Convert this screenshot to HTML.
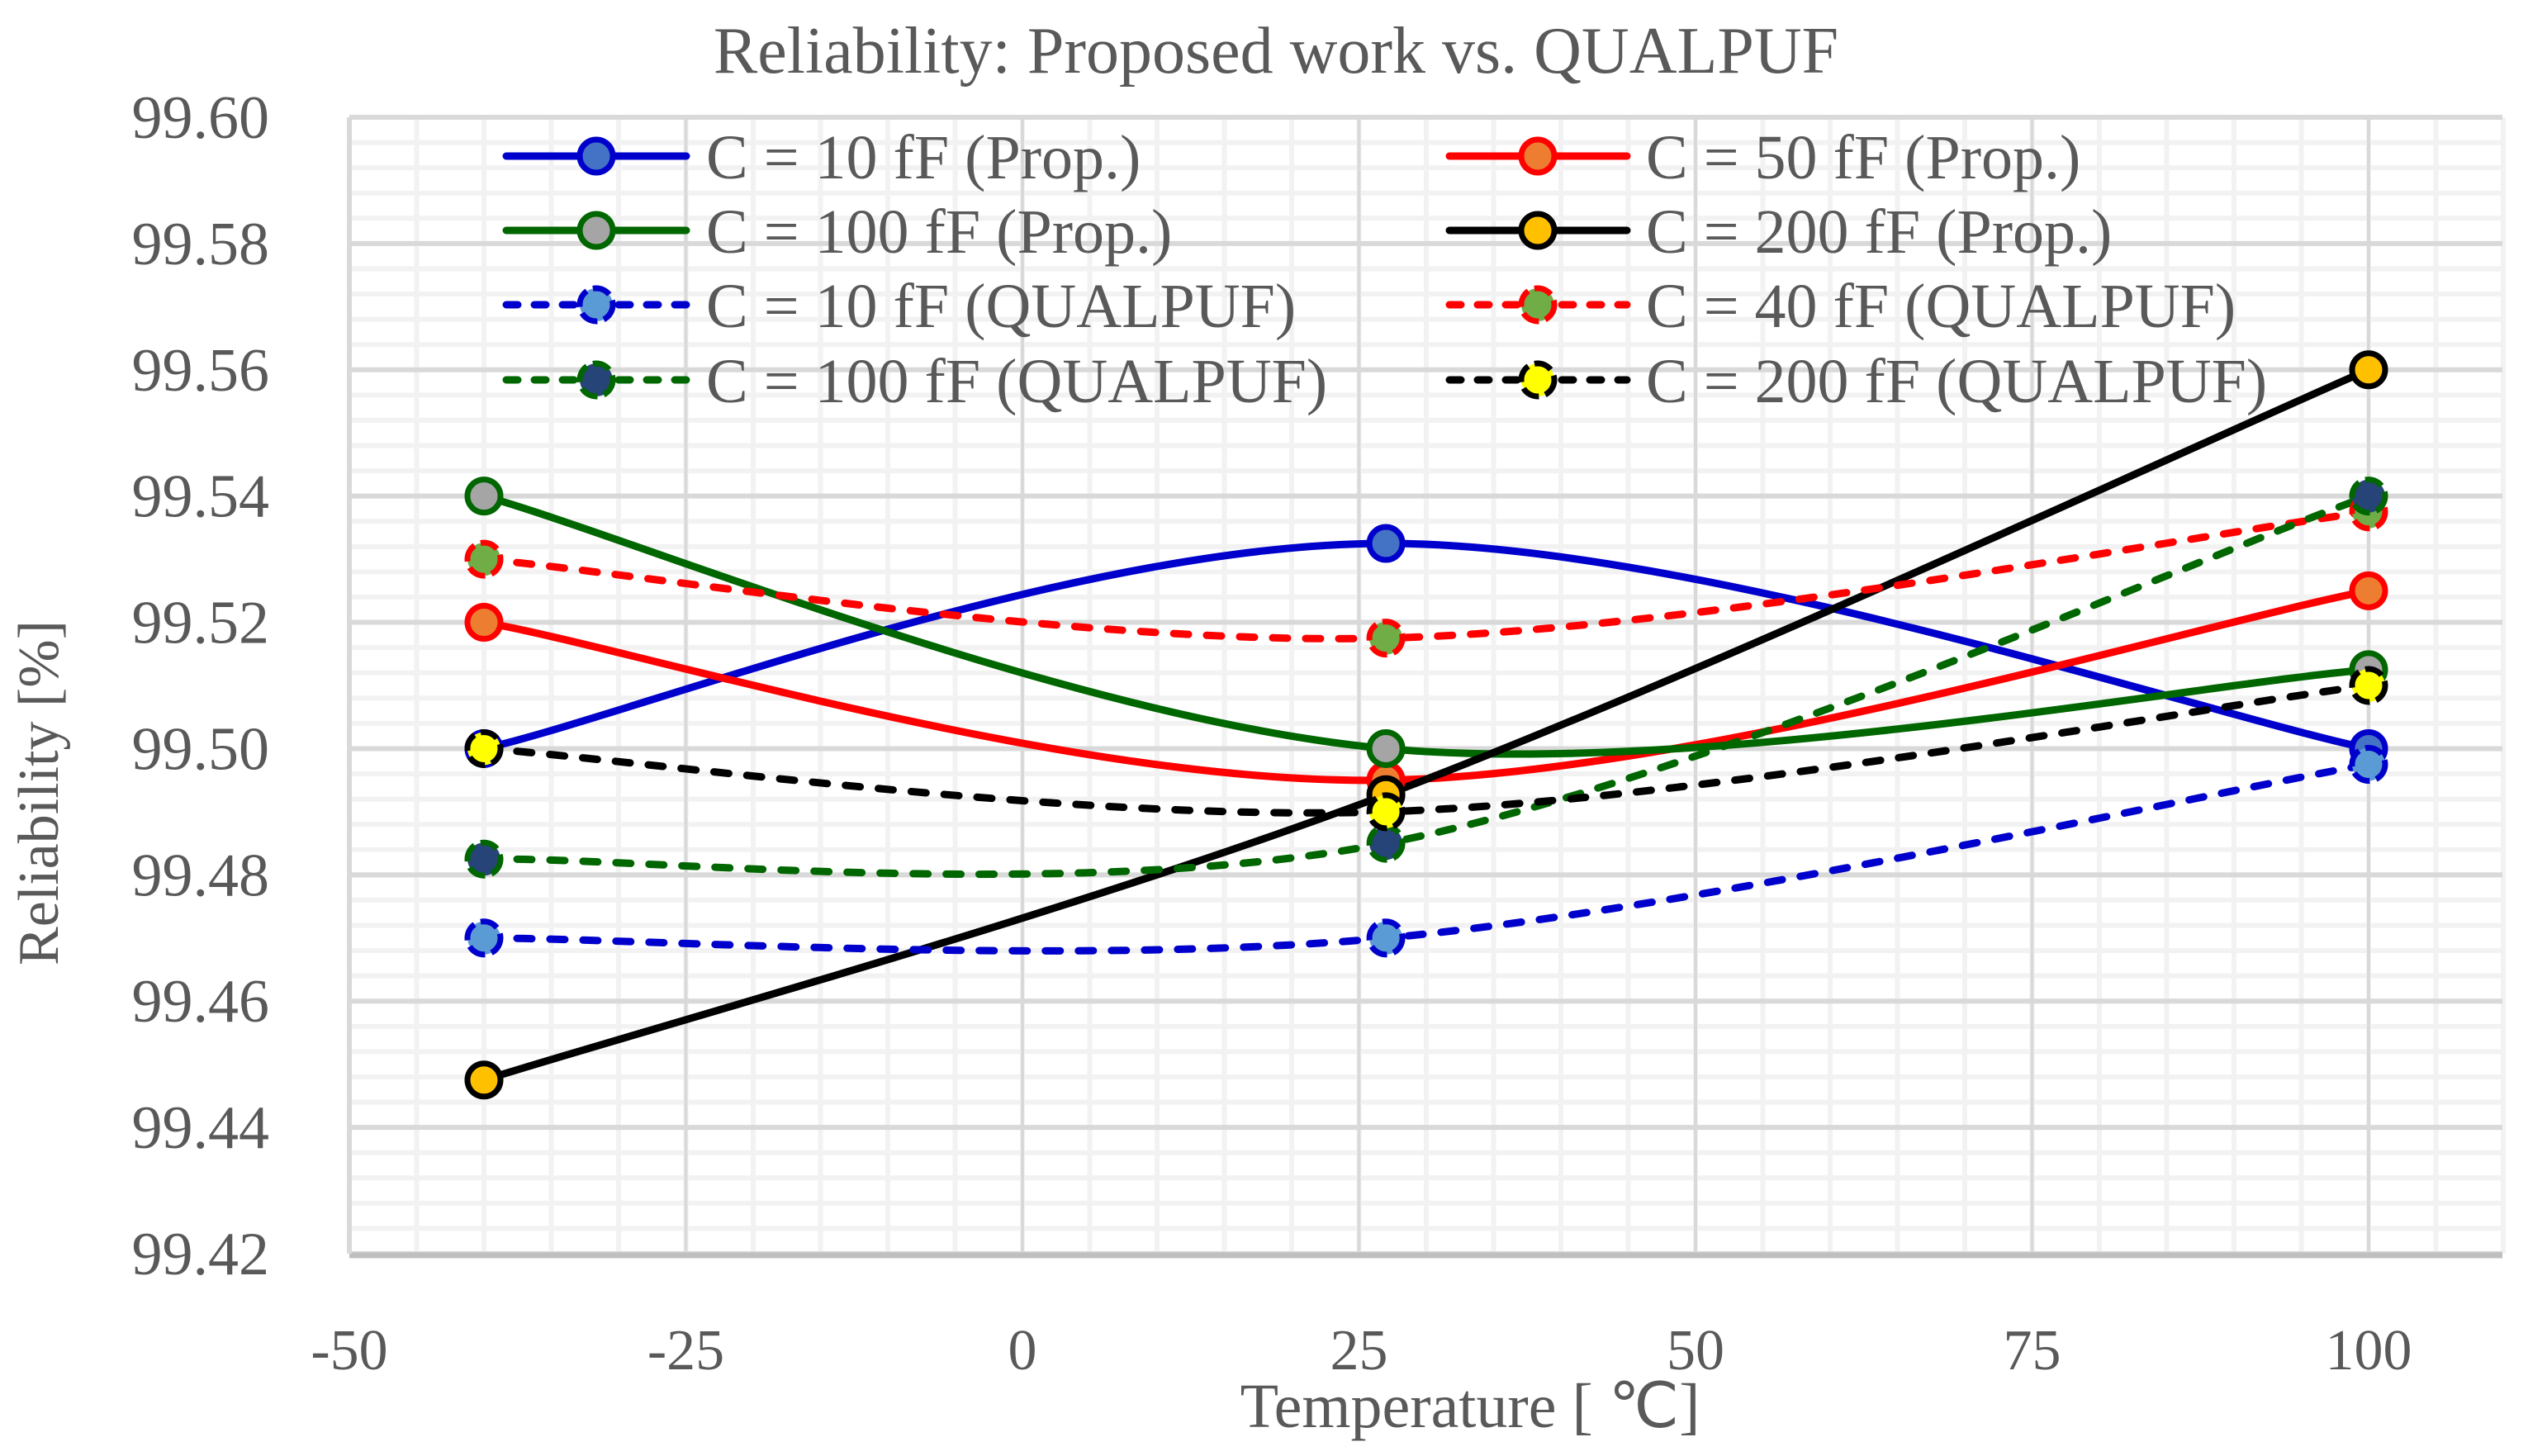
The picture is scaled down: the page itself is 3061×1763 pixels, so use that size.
<!DOCTYPE html>
<html><head><meta charset="utf-8"><style>
html,body{margin:0;padding:0;background:#fff;}
svg{display:block;}
text{font-family:"Liberation Serif",serif;fill:#595959;}
</style></head><body>
<svg id="chart" width="3061" height="1763" viewBox="0 0 3061 1763" xmlns="http://www.w3.org/2000/svg">
<rect width="3061" height="1763" fill="#fff"/>
<g id="grid"></g>
<g id="axes"></g>
<g id="series"></g>
<g id="legend"></g>
<text x="1545" y="88" font-size="80" text-anchor="middle">Reliability: Proposed work vs. QUALPUF</text>
<text x="1780" y="1728" font-size="76" text-anchor="middle">Temperature [ ℃]</text>
<text x="0" y="0" font-size="70" text-anchor="middle" transform="translate(70,960) rotate(-90)">Reliability [%]</text>
</svg>
<script>
const temps = [-40, 27, 100];
const blueProp = [99.50, 99.5325, 99.50];
const redProp = [99.52, 99.495, 99.525];
const greenProp = [99.54, 99.50, 99.5125];
const blackProp = [99.4475, 99.4927, 99.56];
const blueQ = [99.47, 99.47, 99.4975];
const redQ = [99.53, 99.5175, 99.5375];
const greenQ = [99.4825, 99.485, 99.54];
const blackQ = [99.50, 99.49, 99.51];
const xTicks = [-50, -25, 0, 25, 50, 75, 100];
const yTicks = [99.42, 99.44, 99.46, 99.48, 99.50, 99.52, 99.54, 99.56, 99.58, 99.60];
const legendLabels = ["C = 10 fF (Prop.)","C = 50 fF (Prop.)","C = 100 fF (Prop.)","C = 200 fF (Prop.)","C = 10 fF (QUALPUF)","C = 40 fF (QUALPUF)","C = 100 fF (QUALPUF)","C = 200 fF (QUALPUF)"];

const NS="http://www.w3.org/2000/svg";
const L=423,R=3030,T=142,B=1518,X0=-50,X1=110,Y0=99.42,Y1=99.60;
const xs=v=>L+(v-X0)*(2868-L)/150;
const ys=v=>B-(v-Y0)/(Y1-Y0)*(B-T);
function mk(tag,attrs,parent){const e=document.createElementNS(NS,tag);for(const k in attrs)e.setAttribute(k,attrs[k]);parent.appendChild(e);return e;}
const grid=document.getElementById('grid'),axes=document.getElementById('axes'),ser=document.getElementById('series'),leg=document.getElementById('legend');
for(let v=X0;v<=X1+0.01;v+=5){const l=mk('line',{x1:xs(v),x2:xs(v),y1:T,y2:B,stroke:'#f2f2f2','stroke-width':6},grid);

}
for(let i=0;i<=45;i++){const v=Y0+i*0.004;const l=mk('line',{x1:L,x2:R,y1:ys(v),y2:ys(v),stroke:'#f2f2f2','stroke-width':6},grid);

}
xTicks.forEach(v=>{const l=mk('line',{x1:xs(v),x2:xs(v),y1:T,y2:B,stroke:'#d9d9d9','stroke-width':4},grid);


const t=mk('text',{x:xs(v),y:1658,'font-size':70,'text-anchor':'middle'},axes);t.textContent=v;

});
yTicks.forEach(v=>{const l=mk('line',{x1:L,x2:R,y1:ys(v),y2:ys(v),stroke:'#d9d9d9','stroke-width':6},grid);


const t=mk('text',{x:326,y:ys(v)+25,'font-size':74,'text-anchor':'end'},axes);t.textContent=v.toFixed(2);

});
const ax=mk('line',{x1:L,x2:R,y1:B+2,y2:B+2,stroke:'#bfbfbf','stroke-width':7},axes);


const ay=mk('line',{x1:L,x2:L,y1:T,y2:B,stroke:'#d9d9d9','stroke-width':6},axes);



const specs=[
 {d:blueProp,c:'#0000cc',f:'#4472c4',dash:false,n:'c10-prop'},
 {d:redProp,c:'#ff0000',f:'#ed7d31',dash:false,n:'c50-prop'},
 {d:greenProp,c:'#006600',f:'#a5a5a5',dash:false,n:'c100-prop'},
 {d:blackProp,c:'#000000',f:'#ffc000',dash:false,n:'c200-prop'},
 {d:blueQ,c:'#0000cc',f:'#5b9bd5',dash:true,n:'c10-qualpuf'},
 {d:redQ,c:'#ff0000',f:'#70ad47',dash:true,n:'c40-qualpuf'},
 {d:greenQ,c:'#006600',f:'#264478',dash:true,n:'c100-qualpuf'},
 {d:blackQ,c:'#000000',f:'#ffff00',dash:true,n:'c200-qualpuf'}];
function smooth(pts){let d=`M${pts[0][0]},${pts[0][1]}`;for(let i=0;i<pts.length-1;i++){const p0=pts[Math.max(0,i-1)],p1=pts[i],p2=pts[i+1],p3=pts[Math.min(pts.length-1,i+2)];
const c1=[p1[0]+(p2[0]-p0[0])/6,p1[1]+(p2[1]-p0[1])/6],c2=[p2[0]-(p3[0]-p1[0])/6,p2[1]-(p3[1]-p1[1])/6];
d+=` C${c1[0]},${c1[1]} ${c2[0]},${c2[1]} ${p2[0]},${p2[1]}`;}return d;}
specs.forEach((s,k)=>{const pts=temps.map((t,i)=>[xs(t),ys(s.d[i])]);
const p=mk('path',{d:smooth(pts),fill:'none',stroke:s.c,'stroke-width':9,'stroke-linecap':s.dash?'round':'butt'},ser);
if(s.dash)p.setAttribute('stroke-dasharray','18 22');

});
specs.forEach(s=>{temps.forEach((t,i)=>{const c=mk('circle',{cx:xs(t),cy:ys(s.d[i]),r:20,fill:s.f,stroke:s.c,'stroke-width':7},ser);
if(s.dash)c.setAttribute('stroke-dasharray','22 8');

});});
const rows=[189,279,369,460];
specs.forEach((s,k)=>{const col=k%2,row=Math.floor(k/2);const x1=col?1755:613,x2=col?1970:831,mx=col?1862:722,tx=col?1993:855,y=rows[row];
const g=mk('g',{},leg);


const l=mk('line',{x1:x1,x2:x2,y1:y,y2:y,stroke:s.c,'stroke-width':9,'stroke-linecap':'round'},g);
if(s.dash)l.setAttribute('stroke-dasharray','14 20');
mk('ellipse',{cx:mx,cy:y,rx:20,ry:20,fill:s.f,stroke:s.c,'stroke-width':7,'stroke-dasharray':s.dash?'22 8':'none'},g);
const t=mk('text',{x:tx,y:y+27,'font-size':76},g);t.textContent=legendLabels[k];});
</script>
</body></html>
